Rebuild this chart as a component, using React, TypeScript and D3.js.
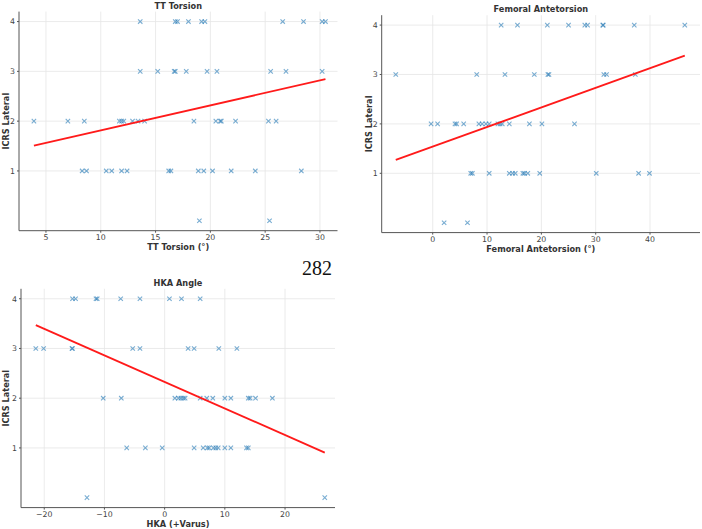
import React from "react";
import * as d3 from "d3";

// ICRS lateral grade (0–4) against three alignment measures.
const lateralGrades = [4, 3, 2, 1, 0];
const yTicks = [1, 2, 3, 4];

// TT torsion (°) per grade row, listed in the order of lateralGrades
const ttTorsion4 = [13.6, 16.8, 17.0, 18.0, 19.2, 19.5, 26.6, 28.5, 30.2, 30.5];
const ttTorsion3 = [13.6, 15.2, 16.7, 16.8, 17.8, 19.7, 20.6, 25.5, 26.9, 30.2];
const ttTorsion2 = [3.9, 7.0, 8.5, 11.7, 11.9, 12.1, 12.9, 13.4, 14.0, 18.5, 20.5, 20.9, 21.0, 22.3, 25.3, 26.0];
const ttTorsion1 = [8.3, 8.7, 10.5, 11.0, 11.9, 12.4, 16.2, 16.4, 18.9, 19.4, 20.2, 21.9, 24.1, 28.3];
const ttTorsion0 = [19.0, 25.4];
const ttTicks = [5, 10, 15, 20, 25, 30];
const ttFit = { slope: 0.0501, intercept: 1.315 };

// Femoral antetorsion (°)
const femoral4 = [12.6, 15.6, 21.1, 25.0, 28.0, 28.5, 31.3, 31.4, 37.1, 46.4];
const femoral3 = [-6.8, 8.1, 13.3, 18.7, 21.2, 21.4, 31.5, 32.0, 37.3];
const femoral2 = [-0.3, 0.9, 4.1, 4.4, 5.7, 8.5, 9.1, 9.8, 10.4, 12.0, 12.4, 12.8, 14.1, 17.8, 20.1, 26.1];
const femoral1 = [7.0, 7.3, 10.4, 14.1, 14.7, 15.2, 16.6, 16.9, 17.5, 19.7, 30.1, 37.9, 39.9];
const femoral0 = [2.1, 6.4];
const femoralTicks = [0, 10, 20, 30, 40];
const femoralFit = { slope: 0.0397, intercept: 1.54 };

// HKA angle (+varus)
const hka4 = [-15.3, -14.8, -11.4, -11.2, -7.3, -4.1, 0.8, 2.8, 5.9];
const hka3 = [-21.4, -20.1, -15.4, -15.3, -5.3, -4.1, 3.9, 4.9, 9.0, 12.0];
const hka2 = [-10.2, -7.2, 1.7, 2.3, 2.7, 3.1, 3.4, 5.9, 7.0, 8.0, 10.0, 11.0, 13.9, 14.2, 15.1, 17.9];
const hka1 = [-6.3, -3.2, -0.4, 4.9, 6.4, 7.1, 7.4, 8.1, 8.5, 8.9, 10.0, 11.0, 13.6, 13.9];
const hka0 = [-12.9, 26.6];
const hkaTicks = [-20, -10, 0, 10, 20];
const hkaFit = { slope: -0.0534, intercept: 2.327 };

type Pt = { x: number; y: number };

function toPoints(rows: number[][]): Pt[] {
  const pts: Pt[] = [];
  rows.forEach((row, i) => row.forEach((x) => pts.push({ x, y: lateralGrades[i] })));
  return pts;
}

const FONT = "'DejaVu Sans', sans-serif";

interface PanelProps {
  title: string;
  xLabel: string;
  points: Pt[];
  fit: { slope: number; intercept: number };
  xTicks: number[];
  xDomain: [number, number];
  left: number;
  right: number;
  top: number;
  bottom: number;
  titleY: number;
  yLabelX: number;
}

function Panel(p: PanelProps) {
  const x = d3.scaleLinear().domain(p.xDomain).range([p.left, p.right]);
  const y = d3.scaleLinear().domain([-0.2, 4.2]).range([p.bottom, p.top]);
  const [xmin, xmax] = d3.extent(p.points, (d) => d.x) as [number, number];
  const line = d3
    .line<number>()
    .x((v) => x(v))
    .y((v) => y(p.fit.intercept + p.fit.slope * v));
  const s = 2.2;
  const midY = (p.top + p.bottom) / 2;
  return (
    <g>
      {/* grid */}
      {p.xTicks.map((t) => (
        <line key={"gx" + t} x1={x(t)} x2={x(t)} y1={p.top} y2={p.bottom} stroke="#e6e6e6" strokeWidth={0.8} />
      ))}
      {yTicks.map((t) => (
        <line key={"gy" + t} x1={p.left} x2={p.right} y1={y(t)} y2={y(t)} stroke="#e6e6e6" strokeWidth={0.8} />
      ))}
      {/* points */}
      {p.points.map((d, i) => (
        <path
          key={i}
          d={`M${x(d.x) - s},${y(d.y) - s}L${x(d.x) + s},${y(d.y) + s}M${x(d.x) - s},${y(d.y) + s}L${x(d.x) + s},${y(d.y) - s}`}
          stroke="#1f77b4"
          strokeOpacity={0.6}
          strokeWidth={1.1}
          fill="none"
        />
      ))}
      {/* regression line */}
      <path d={line([xmin, xmax]) || ""} stroke="#ff1a1a" strokeWidth={1.8} fill="none" />
      {/* spines */}
      <line x1={p.left} x2={p.left} y1={p.top} y2={p.bottom} stroke="#555" strokeWidth={1} />
      <line x1={p.left} x2={p.right} y1={p.bottom} y2={p.bottom} stroke="#555" strokeWidth={1} />
      {/* ticks */}
      {p.xTicks.map((t) => (
        <g key={"tx" + t}>
          <line x1={x(t)} x2={x(t)} y1={p.bottom} y2={p.bottom + 2} stroke="#555" />
          <text x={x(t)} y={p.bottom + 9} fontSize={7.8} fill="#444" textAnchor="middle" fontFamily={FONT}>
            {t < 0 ? "\u2212" + Math.abs(t) : t}
          </text>
        </g>
      ))}
      {yTicks.map((t) => (
        <g key={"ty" + t}>
          <line x1={p.left - 2} x2={p.left} y1={y(t)} y2={y(t)} stroke="#555" />
          <text x={p.left - 4} y={y(t) + 2.8} fontSize={7.8} fill="#444" textAnchor="end" fontFamily={FONT}>
            {t}
          </text>
        </g>
      ))}
      {/* labels */}
      <text x={(p.left + p.right) / 2} y={p.titleY} fontSize={8.2} fontWeight="bold" fill="#333" textAnchor="middle" fontFamily={FONT}>
        {p.title}
      </text>
      <text x={(p.left + p.right) / 2} y={p.bottom + 19} fontSize={8.2} fontWeight="bold" fill="#333" textAnchor="middle" fontFamily={FONT}>
        {p.xLabel}
      </text>
      <text
        transform={`translate(${p.yLabelX},${midY}) rotate(-90)`}
        fontSize={8.2}
        fontWeight="bold"
        fill="#333"
        textAnchor="middle"
        dy="0.35em"
        fontFamily={FONT}
      >
        ICRS Lateral
      </text>
    </g>
  );
}

export default function App() {
  return (
    <svg
      width={702}
      height={529}
      style={{ position: "absolute", left: 0, top: 0, background: "#fff" }}
    >
      <rect width={702} height={529} fill="#fff" />
      <Panel
        title="TT Torsion"
        xLabel="TT Torsion (°)"
        points={toPoints([ttTorsion4, ttTorsion3, ttTorsion2, ttTorsion1, ttTorsion0])}
        fit={ttFit}
        xTicks={ttTicks}
        xDomain={[2.54, 31.6]}
        left={19}
        right={337.5}
        top={11.6}
        bottom={230.7}
        titleY={9}
        yLabelX={6}
      />
      <Panel
        title="Femoral Antetorsion"
        xLabel="Femoral Antetorsion (°)"
        points={toPoints([femoral4, femoral3, femoral2, femoral1, femoral0])}
        fit={femoralFit}
        xTicks={femoralTicks}
        xDomain={[-9.39, 49.2]}
        left={381.7}
        right={700}
        top={15.2}
        bottom={232.6}
        titleY={11.5}
        yLabelX={369}
      />
      <Panel
        title="HKA Angle"
        xLabel="HKA (+Varus)"
        points={toPoints([hka4, hka3, hka2, hka1, hka0])}
        fit={hkaFit}
        xTicks={hkaTicks}
        xDomain={[-23.86, 28.3]}
        left={21}
        right={335}
        top={288.8}
        bottom={507.6}
        titleY={286}
        yLabelX={6}
      />
      <text x={317} y={275} fontSize={20} textAnchor="middle" fontFamily="'Liberation Serif', serif" fill="#111">
        282
      </text>
    </svg>
  );
}
